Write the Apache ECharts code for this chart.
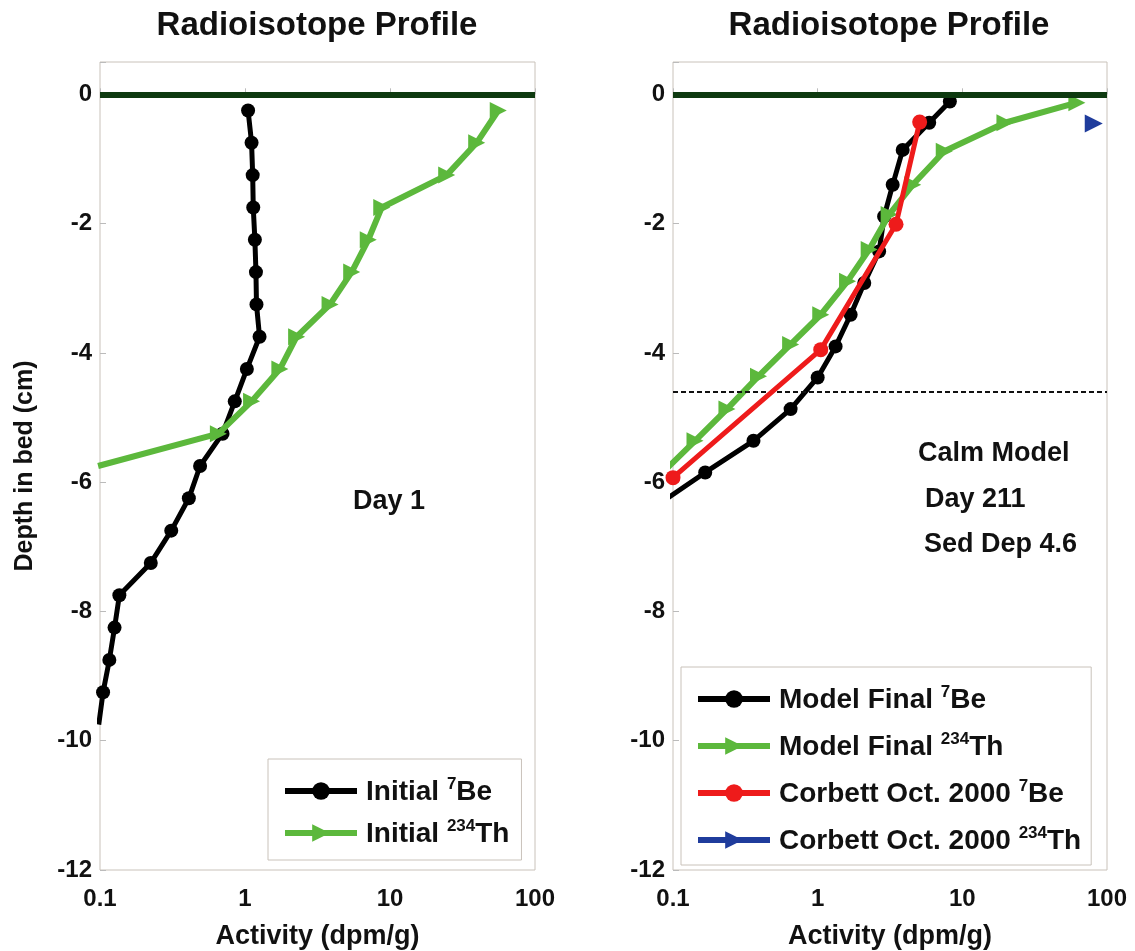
<!DOCTYPE html>
<html><head><meta charset="utf-8">
<script src="https://cdn.jsdelivr.net/npm/echarts@6/dist/echarts.min.js"></script>
<style>html,body{margin:0;padding:0;background:#fff}#c{width:1135px;height:951px}</style>
</head><body><div id="c"></div>
<script>
// ---- data (depth in cm, activity in dpm/g) ----
const xTickLabels = [0.1, 1, 10, 100];
const yTickLabels = [-12, -10, -8, -6, -4, -2, 0];

const initBeDepth = [-0.25,-0.75,-1.25,-1.75,-2.25,-2.75,-3.25,-3.75,-4.25,-4.75,-5.25,-5.75,-6.25,-6.75,-7.25,-7.75,-8.25,-8.75,-9.25,-9.75];
const initBeAct   = [1.05,1.11,1.13,1.14,1.17,1.19,1.20,1.26,1.03,0.85,0.70,0.49,0.41,0.31,0.224,0.136,0.126,0.116,0.105,0.098];

const initThDepth = [-0.25,-0.75,-1.25,-1.75,-2.25,-2.75,-3.25,-3.75,-4.25,-4.75,-5.25,-5.75];
const initThAct   = [55.8,39.6,24.6,8.77,7.08,5.44,3.86,2.27,1.74,1.11,0.655,0.097];

const finBeDepth = [-0.11,-0.44,-0.86,-1.40,-1.89,-2.43,-2.92,-3.41,-3.90,-4.38,-4.87,-5.36,-5.85,-6.34];
const finBeAct   = [8.2,5.9,3.87,3.30,2.88,2.66,2.10,1.69,1.33,1.0,0.65,0.36,0.167,0.08];

const finThDepth = [-0.13,-0.44,-0.88,-1.40,-1.86,-2.40,-2.89,-3.41,-3.87,-4.36,-4.87,-5.36,-5.85];
const finThAct   = [61.9,19.7,7.5,4.54,3.12,2.27,1.61,1.05,0.65,0.39,0.236,0.142,0.085];

const corbBeDepth = [-0.43,-2.01,-3.95,-5.93];
const corbBeAct   = [5.07,3.48,1.05,0.1];

const corbThDepth = [-0.45];
const corbThAct   = [81];

const sedDep = -4.6;
const surface = 0;

// ---- chart ----
const FONT = '"Liberation Sans", Arial, sans-serif';
const pair = (xs, ys) => xs.map((x, i) => [x, ys[i]]);
const C_BLACK = '#000000', C_GREEN = '#5cb83c', C_RED = '#ee1b1b', C_BLUE = '#1f3c9c', C_ZERO = '#0e3a10';

const legendRich = {
  t: {fontSize: 28, fontWeight: 'bold', fontFamily: FONT, color: '#111', lineHeight: 30, verticalAlign: 'bottom'},
  s: {fontSize: 17, fontWeight: 'bold', fontFamily: FONT, color: '#111', lineHeight: 14, verticalAlign: 'top'}
};
const legendText = {
  'Initial 7Be': '{t|Initial }{s|7}{t|Be}',
  'Initial 234Th': '{t|Initial }{s|234}{t|Th}',
  'Model Final 7Be': '{t|Model Final }{s|7}{t|Be}',
  'Model Final 234Th': '{t|Model Final }{s|234}{t|Th}',
  'Corbett Oct. 2000 7Be': '{t|Corbett Oct. 2000 }{s|7}{t|Be}',
  'Corbett Oct. 2000 234Th': '{t|Corbett Oct. 2000 }{s|234}{t|Th}'
};

function xAx(gi) {
  return {
    type: 'log', logBase: 10, min: xTickLabels[0], max: xTickLabels[xTickLabels.length - 1], gridIndex: gi,
    axisLine: {show: false},
    axisTick: {show: true, inside: true, length: 6, lineStyle: {color: '#bbb'}},
    axisLabel: {fontSize: 24, fontWeight: 'bold', fontFamily: FONT, color: '#111', margin: 17,
      formatter: v => String(+(+v).toPrecision(3))},
    splitLine: {show: false},
    name: 'Activity (dpm/g)', nameLocation: 'middle', nameGap: 53,
    nameTextStyle: {fontSize: 27, fontWeight: 'bold', fontFamily: FONT, color: '#111'}
  };
}
function yAx(gi, withName) {
  const a = {
    type: 'value', min: yTickLabels[0], max: 0.5, interval: 2, gridIndex: gi,
    axisLine: {show: false},
    axisTick: {show: true, inside: true, length: 6, lineStyle: {color: '#bbb'}},
    axisLabel: {fontSize: 24, fontWeight: 'bold', fontFamily: FONT, color: '#111', margin: 8,
      formatter: v => (yTickLabels.indexOf(v) >= 0 ? String(v) : '')},
    splitLine: {show: false}
  };
  if (withName) {
    a.name = 'Depth in bed (cm)'; a.nameLocation = 'middle'; a.nameGap = 62;
    a.nameTextStyle = {fontSize: 25, fontWeight: 'bold', fontFamily: FONT, color: '#111'};
  }
  return a;
}
const zeroLine = {
  silent: true, symbol: ['none', 'none'], label: {show: false}, animation: false,
  lineStyle: {color: C_ZERO, width: 6, type: 'solid'},
  data: [{yAxis: surface}]
};
const tri = {symbol: 'triangle', symbolRotate: -90};
const legendCommon = {
  orient: 'vertical', itemWidth: 72, itemHeight: 22,
  borderColor: '#c9c2ba', borderWidth: 1, backgroundColor: '#fff',
  lineStyle: {width: 6},
  formatter: n => legendText[n], textStyle: {rich: legendRich, padding: [0, 0, 0, 4]}
};

const option = {
  animation: false,
  backgroundColor: '#fff',
  title: [
    {text: 'Radioisotope Profile', left: 317, top: 9, textAlign: 'center', padding: 0,
      textStyle: {fontSize: 33, fontWeight: 'bold', fontFamily: FONT, color: '#111'}},
    {text: 'Radioisotope Profile', left: 889, top: 9, textAlign: 'center', padding: 0,
      textStyle: {fontSize: 33, fontWeight: 'bold', fontFamily: FONT, color: '#111'}}
  ],
  grid: [
    {left: 100, top: 62, width: 435, height: 808, show: true, borderColor: '#c9c2ba', borderWidth: 1,
      backgroundColor: 'transparent', outerBoundsMode: 'none', containLabel: false},
    {left: 673, top: 62, width: 434, height: 808, show: true, borderColor: '#c9c2ba', borderWidth: 1,
      backgroundColor: 'transparent', outerBoundsMode: 'none', containLabel: false}
  ],
  xAxis: [xAx(0), xAx(1)],
  yAxis: [yAx(0, true), yAx(1, false)],
  legend: [
    Object.assign({}, legendCommon, {data: ['Initial 7Be', 'Initial 234Th'], left: 268, top: 759,
      itemGap: 12, padding: [17, 12, 12, 14]}),
    Object.assign({}, legendCommon, {data: ['Model Final 7Be', 'Model Final 234Th', 'Corbett Oct. 2000 7Be', 'Corbett Oct. 2000 234Th'],
      left: 681, top: 667, itemGap: 17, padding: [17, 10, 10, 14]})
  ],
  graphic: [
    {type: 'text', x: 389, y: 502, style: {text: 'Day 1', font: 'bold 27px ' + FONT, fill: '#111', align: 'center', verticalAlign: 'middle'}},
    {type: 'text', x: 918, y: 454, style: {text: 'Calm Model', font: 'bold 27px ' + FONT, fill: '#111', align: 'left', verticalAlign: 'middle'}},
    {type: 'text', x: 925, y: 500, style: {text: 'Day 211', font: 'bold 27px ' + FONT, fill: '#111', align: 'left', verticalAlign: 'middle'}},
    {type: 'text', x: 924, y: 545, style: {text: 'Sed Dep 4.6', font: 'bold 27px ' + FONT, fill: '#111', align: 'left', verticalAlign: 'middle'}}
  ],
  series: [
    {name: 'Initial 7Be', type: 'line', xAxisIndex: 0, yAxisIndex: 0, data: pair(initBeAct, initBeDepth),
      symbol: 'circle', symbolSize: 14, lineStyle: {color: C_BLACK, width: 5}, itemStyle: {color: C_BLACK},
      markLine: zeroLine, z: 3},
    {name: 'Initial 234Th', type: 'line', xAxisIndex: 0, yAxisIndex: 0, data: pair(initThAct, initThDepth),
      ...tri, symbolSize: 17, lineStyle: {color: C_GREEN, width: 6}, itemStyle: {color: C_GREEN}, z: 4},
    {name: 'Model Final 7Be', type: 'line', xAxisIndex: 1, yAxisIndex: 1, data: pair(finBeAct, finBeDepth),
      symbol: 'circle', symbolSize: 14, lineStyle: {color: C_BLACK, width: 5}, itemStyle: {color: C_BLACK},
      markLine: zeroLine, z: 3},
    {name: 'Model Final 234Th', type: 'line', xAxisIndex: 1, yAxisIndex: 1, data: pair(finThAct, finThDepth),
      ...tri, symbolSize: 17, lineStyle: {color: C_GREEN, width: 6}, itemStyle: {color: C_GREEN}, z: 4,
      markLine: {silent: true, symbol: ['none', 'none'], label: {show: false}, animation: false,
        lineStyle: {color: '#111', width: 2, type: [5, 3]}, data: [{yAxis: sedDep}]}},
    {name: 'Corbett Oct. 2000 7Be', type: 'line', xAxisIndex: 1, yAxisIndex: 1, data: pair(corbBeAct, corbBeDepth),
      symbol: 'circle', symbolSize: 15, lineStyle: {color: C_RED, width: 5}, itemStyle: {color: C_RED}, z: 5},
    {name: 'Corbett Oct. 2000 234Th', type: 'line', xAxisIndex: 1, yAxisIndex: 1, data: pair(corbThAct, corbThDepth),
      ...tri, symbolSize: 18, lineStyle: {color: C_BLUE, width: 5}, itemStyle: {color: C_BLUE}, z: 5}
  ]
};
const chart = echarts.init(document.getElementById('c'), null, {renderer: 'canvas'});
chart.setOption(option);
</script>
</body></html>
